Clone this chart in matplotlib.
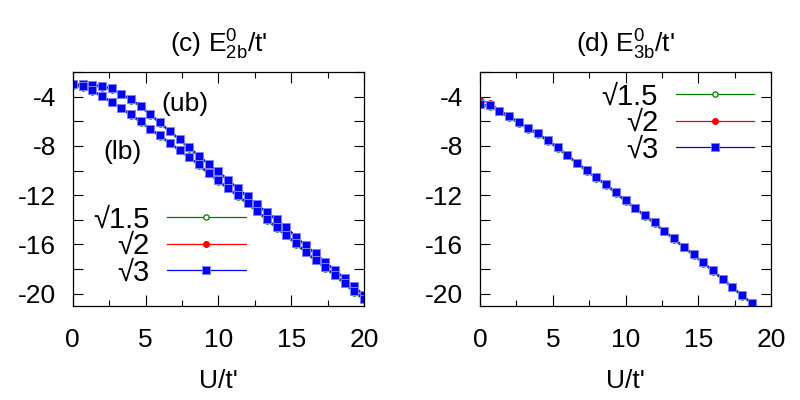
import matplotlib
matplotlib.use('Agg')
import matplotlib.pyplot as plt
from matplotlib.ticker import MultipleLocator

plt.rcParams['font.family'] = ['Liberation Sans', 'DejaVu Sans']
plt.rcParams['mathtext.fontset'] = 'custom'
plt.rcParams['mathtext.rm'] = 'Liberation Sans'
plt.rcParams['mathtext.it'] = 'Liberation Sans'
plt.rcParams['axes.unicode_minus'] = False

# U/t' grid (c) panel
U_c = [0, 0.67, 1.33, 2, 2.67, 3.33, 4, 4.67, 5.33, 6, 6.67, 7.33, 8, 8.67, 9.33, 10,
       10.67, 11.33, 12, 12.67, 13.33, 14, 14.67, 15.33, 16, 16.67, 17.33, 18, 18.67, 19.33, 20]

# upper branch (ub)
ub_green = [-3.12, -3.12, -3.14, -3.26, -3.45, -3.88, -4.32, -4.87, -5.54, -6.22, -6.89, -7.56,
            -8.23, -8.9, -9.57, -10.19, -10.86, -11.54, -12.21, -12.85, -13.52, -14.07, -14.72,
            -15.49, -16.17, -16.84, -17.51, -18.18, -18.86, -19.52, -20.2]
ub_red = [-2.95, -2.96, -3.0, -3.13, -3.31, -3.75, -4.19, -4.74, -5.41, -6.09, -6.76, -7.43,
          -8.1, -8.77, -9.44, -10.06, -10.73, -11.41, -12.08, -12.72, -13.39, -13.94, -14.59,
          -15.36, -16.04, -16.71, -17.38, -18.05, -18.73, -19.39, -20.07]
ub_blue = [-3.0, -3.0, -3.02, -3.14, -3.32, -3.76, -4.2, -4.75, -5.42, -6.1, -6.77, -7.44,
           -8.11, -8.78, -9.45, -10.07, -10.74, -11.42, -12.09, -12.73, -13.4, -13.95, -14.6,
           -15.37, -16.05, -16.72, -17.39, -18.06, -18.74, -19.4, -20.08]

# lower branch (lb)
lb_green = [-3.12, -3.27, -3.62, -4.04, -4.52, -5.02, -5.57, -6.12, -6.72, -7.27, -7.87, -8.42,
            -9.0, -9.63, -10.32, -10.92, -11.54, -12.12, -12.75, -13.39, -14.06, -14.72, -15.35,
            -16.02, -16.7, -17.37, -17.96, -18.58, -19.25, -19.92, -20.54]
lb_red = [-2.95, -3.12, -3.47, -3.91, -4.39, -4.89, -5.44, -5.99, -6.59, -7.14, -7.74, -8.29,
          -8.87, -9.5, -10.19, -10.79, -11.41, -11.99, -12.62, -13.26, -13.93, -14.59, -15.22,
          -15.89, -16.57, -17.24, -17.83, -18.45, -19.12, -19.79, -20.41]
lb_blue = [-3.0, -3.15, -3.5, -3.92, -4.4, -4.9, -5.45, -6.0, -6.6, -7.15, -7.75, -8.3,
           -8.88, -9.51, -10.2, -10.8, -11.42, -12.0, -12.63, -13.27, -13.94, -14.6, -15.23,
           -15.9, -16.58, -17.25, -17.84, -18.46, -19.13, -19.8, -20.42]

# (d) panel
U_d = [0, 0.67, 1.33, 2, 2.67, 3.33, 4, 4.67, 5.33, 6, 6.67, 7.33, 8, 8.67, 9.33, 10,
       10.67, 11.33, 12, 12.67, 13.33, 14, 14.67, 15.33, 16, 16.67, 17.33, 18, 18.67]
d_green = [-4.72, -4.85, -5.28, -5.73, -6.19, -6.67, -7.12, -7.68, -8.22, -8.86, -9.48, -10.09,
           -10.68, -11.24, -11.9, -12.54, -13.15, -13.77, -14.35, -15.03, -15.63, -16.31, -16.92,
           -17.56, -18.23, -18.9, -19.56, -20.23, -20.85]
d_red = [-4.3, -4.5, -5.05, -5.57, -6.05, -6.53, -6.98, -7.54, -8.08, -8.72, -9.34, -9.95,
         -10.54, -11.1, -11.76, -12.4, -13.01, -13.63, -14.21, -14.89, -15.49, -16.17, -16.78,
         -17.42, -18.09, -18.76, -19.42, -20.09, -20.71]
d_blue = [-4.59, -4.72, -5.15, -5.6, -6.06, -6.54, -6.99, -7.55, -8.09, -8.73, -9.35, -9.96,
          -10.55, -11.11, -11.77, -12.41, -13.02, -13.64, -14.22, -14.9, -15.5, -16.18, -16.79,
          -17.43, -18.1, -18.77, -19.43, -20.1, -20.72]

labels = ['\u221a1.5', '\u221a2', '\u221a3']
yticks = [-4, -8, -12, -16, -20]
xticks = [0, 5, 10, 15, 20]

FS = 19
LFS = 21

green = dict(color='#007a00', marker='o', mfc='white', mec='#007a00', ms=3.8, lw=0.9, mew=0.9)
red = dict(color='#ff0000', marker='o', mfc='#ff0000', mec='#ff0000', ms=4, lw=0.9)
blue = dict(color='#0000ff', marker='s', mfc='#0000ff', mec='#8080ff', ms=6, lw=0.9, mew=0.7)


def style_axes(ax):
    ax.set_xlim(0, 20)
    ax.set_ylim(-21, -2)
    ax.set_xticks(xticks)
    ax.set_yticks(yticks)
    ax.xaxis.set_minor_locator(MultipleLocator(2.5))
    ax.yaxis.set_minor_locator(MultipleLocator(2))
    ax.tick_params(which='both', direction='in', top=True, right=True, labelsize=FS, width=0.8)
    ax.tick_params(axis='x', which='major', length=8, pad=16)
    ax.tick_params(axis='x', which='minor', length=4)
    ax.tick_params(axis='y', which='both', length=7, pad=12)
    for s in ax.spines.values():
        s.set_linewidth(0.9)
    ax.set_xlabel("U/t'", fontsize=FS, labelpad=12)


def add_legend(ax, anchor):
    leg = ax.legend(loc='upper right', bbox_to_anchor=anchor, frameon=False, fontsize=LFS,
                    markerfirst=False, handlelength=2.7, handletextpad=0.6, labelspacing=-0.05,
                    borderpad=0, borderaxespad=0)
    # legend symbols a bit smaller than in the plot
    for h, ms in zip(leg.legend_handles, [3.8, 4, 5.5]):
        h.set_markersize(ms)


fig = plt.figure(figsize=(8, 4), dpi=100)
ax1 = fig.add_axes([0.091, 0.235, 0.364, 0.585])
ax2 = fig.add_axes([0.6, 0.235, 0.364, 0.585])

# panel (c): two branches, same styles
ax1.plot(U_c, ub_green, label=labels[0], **green)
ax1.plot(U_c, ub_red, label=labels[1], **red)
ax1.plot(U_c, ub_blue, label=labels[2], **blue)
ax1.plot(U_c, lb_green, **green)
ax1.plot(U_c, lb_red, **red)
ax1.plot(U_c, lb_blue, **blue)
style_axes(ax1)
ax1.set_title("(c) $\\mathregular{E^0_{2b}}$/t'", fontsize=FS, pad=14)
ax1.text(7.7, -4.6, '(ub)', fontsize=FS, ha='center', va='center')
ax1.text(3.4, -8.5, '(lb)', fontsize=FS, ha='center', va='center')
add_legend(ax1, (0.594, 0.43))

# panel (d)
ax2.plot(U_d, d_green, label=labels[0], **green)
ax2.plot(U_d, d_red, label=labels[1], **red)
ax2.plot(U_d, d_blue, label=labels[2], **blue)
style_axes(ax2)
ax2.set_title("(d) $\\mathregular{E^0_{3b}}$/t'", fontsize=FS, pad=14)
add_legend(ax2, (0.942, 0.955))

fig.savefig('out.png', dpi=100)
